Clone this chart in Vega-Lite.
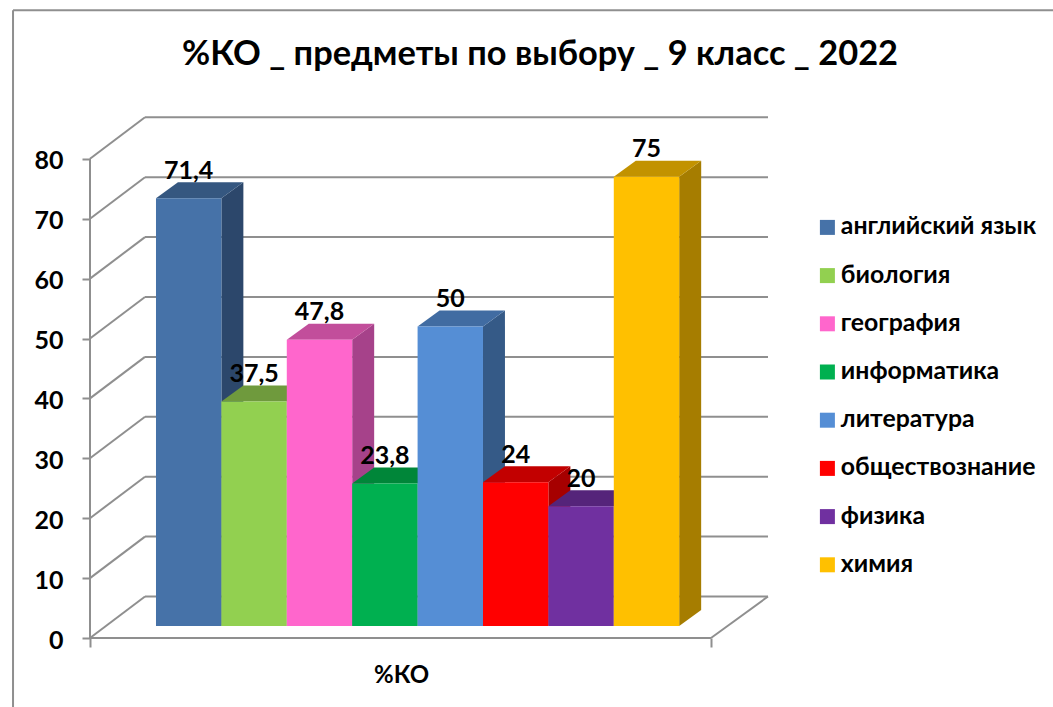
{
"$schema":"https://vega.github.io/schema/vega-lite/v6.json",
"width":678,"height":521,
"autosize":"none",
"padding":{"left":90,"top":117,"right":285,"bottom":69},
"background":"white",
"config":{"view":{"stroke":null},"font":"Lato"},
"title":{"text":"%КО _ предметы по выбору _ 9 класс _ 2022","font":"Lato","fontSize":34.4,"fontWeight":"bold","color":"#000000","anchor":"middle","frame":"group","dx":111,"offset":0,"dy":90,"baseline":"alphabetic"},
"datasets":{
"bars":[
{"subject":"английский язык","value":71.4,"order":0},
{"subject":"биология","value":37.5,"order":1},
{"subject":"география","value":47.8,"order":2},
{"subject":"информатика","value":23.8,"order":3},
{"subject":"литература","value":50,"order":4},
{"subject":"обществознание","value":24,"order":5},
{"subject":"физика","value":20,"order":6},
{"subject":"химия","value":75,"order":7}
],
"levels":[{"level":0},{"level":10},{"level":20},{"level":30},{"level":40},{"level":50},{"level":60},{"level":70},{"level":80}]
},
"layer":[
{"data":{"name":"levels"},"transform":[{"calculate":"datum.level+6.93","as":"back"}],
 "mark":{"type":"rule","color":"#8f8f8f","strokeWidth":2},
 "encoding":{
  "x":{"datum":-1.009,"type":"quantitative","scale":{"domain":[-1.009,9.358],"nice":false,"zero":false},
   "axis":{"values":[-1.009,8.486],"labels":false,"domain":false,"grid":false,"ticks":true,"tickSize":9,"tickWidth":2,"tickColor":"#8f8f8f","title":"%КО","titleFont":"Lato","titleFontSize":24,"titleFontWeight":"bold","titleColor":"#000000","titleX":311,"titleY":37,"titleBaseline":"middle","titleAlign":"center"}},
  "x2":{"datum":-0.168},
  "y":{"field":"level","type":"quantitative","scale":{"domain":[0,86.98],"nice":false,"zero":false},
   "axis":{"values":[0,10,20,30,40,50,60,70,80],"domain":false,"grid":false,"title":null,"tickSize":8,"tickWidth":2,"tickColor":"#8f8f8f","labelFont":"Lato","labelFontSize":25,"labelFontWeight":"bold","labelColor":"#000000","labelPadding":19,"labelOffset":2}},
  "y2":{"field":"back"}
 }},
{"data":{"name":"levels"},"transform":[{"calculate":"datum.level+6.93","as":"back"}],
 "mark":{"type":"rule","color":"#8f8f8f","strokeWidth":2},
 "encoding":{"x":{"datum":-0.168,"type":"quantitative"},"x2":{"datum":9.358},"y":{"field":"back","type":"quantitative"}}},
{"data":{"values":[{"level":0,"back":6.93}]},
 "mark":{"type":"rule","color":"#8f8f8f","strokeWidth":2},
 "encoding":{"x":{"datum":-1.009,"type":"quantitative"},"x2":{"datum":8.486},"y":{"field":"level","type":"quantitative"}}},
{"data":{"values":[{"level":0,"back":6.93}]},
 "mark":{"type":"rule","color":"#8f8f8f","strokeWidth":2},
 "encoding":{"x":{"datum":8.486,"type":"quantitative"},"x2":{"datum":9.358},"y":{"field":"level","type":"quantitative"},"y2":{"field":"back"}}},
{"data":{"values":[{"level":0,"top":80}]},
 "mark":{"type":"rule","color":"#8f8f8f","strokeWidth":2},
 "encoding":{"x":{"datum":-1.009,"type":"quantitative"},"y":{"field":"level","type":"quantitative"},"y2":{"field":"top"}}},
{"data":{"values":[{"a":-11.5,"b":104.8}]},
 "mark":{"type":"rule","color":"#8f8f8f","strokeWidth":2},
 "encoding":{"x":{"datum":-2.186,"type":"quantitative"},"y":{"field":"a","type":"quantitative"},"y2":{"field":"b"}}},
{"data":{"values":[{"b":104.8}]},
 "mark":{"type":"rule","color":"#8f8f8f","strokeWidth":2},
 "encoding":{"x":{"datum":-2.186,"type":"quantitative"},"x2":{"datum":13.716},"y":{"field":"b","type":"quantitative"}}},
{"data":{"name":"bars"},
 "transform":[{"calculate":"datum.order+1","as":"xa"},{"calculate":"datum.order+1.336","as":"xb"},{"fold":["xa","xb"],"as":["edge","xx"]},
  {"calculate":"datum.value+2+(datum.edge=='xb'?2.67:0)","as":"yt"},{"calculate":"2+(datum.edge=='xb'?2.67:0)","as":"yb"}],
 "mark":{"type":"area","opacity":1},
 "encoding":{"x":{"field":"xx","type":"quantitative"},"y":{"field":"yt","type":"quantitative"},"y2":{"field":"yb"},
  "color":{"field":"subject","type":"nominal","legend":null,"scale":{"domain":["английский язык","биология","география","информатика","литература","обществознание","физика","химия"],"range":["#2c476b","#5f8734","#a6428a","#007234","#355a87","#a60000","#491f68","#a67d00"]}}}},
{"data":{"name":"bars"},
 "transform":[{"calculate":"datum.value+2","as":"yf"},{"calculate":"datum.value+4.67","as":"yr"},{"fold":["yf","yr"],"as":["face","yy"]},
  {"calculate":"datum.order+(datum.face=='yr'?0.336:0)","as":"xl"},{"calculate":"datum.order+1+(datum.face=='yr'?0.336:0)","as":"xr"}],
 "mark":{"type":"area","orient":"horizontal","opacity":1},
 "encoding":{"y":{"field":"yy","type":"quantitative"},"x":{"field":"xl","type":"quantitative"},"x2":{"field":"xr"},
  "color":{"field":"subject","type":"nominal","legend":null,"scale":{"domain":["английский язык","биология","география","информатика","литература","обществознание","физика","химия"],"range":["#355780","#6f9a3d","#c24e9b","#008639","#416ca2","#c20000","#55247a","#c29200"]}}}},
{"data":{"name":"bars"},
 "transform":[{"calculate":"datum.order+1","as":"xe"},{"calculate":"datum.value+2","as":"yt"},{"calculate":"2","as":"yb"}],
 "mark":{"type":"rect"},
 "encoding":{"x":{"field":"order","type":"quantitative"},"x2":{"field":"xe"},"y":{"field":"yt","type":"quantitative"},"y2":{"field":"yb"},
  "color":{"field":"subject","type":"nominal","sort":null,
   "scale":{"domain":["английский язык","биология","география","информатика","литература","обществознание","физика","химия"],"range":["#4672a8","#92d050","#ff66cc","#00b050","#558ed5","#ff0000","#7030a0","#ffc000"]},
   "legend":{"orient":"none","legendX":725,"legendY":98,"title":null,"symbolType":"square","symbolSize":225,"symbolStrokeWidth":0,"labelFont":"Lato","labelFontSize":24.8,"labelFontWeight":"bold","labelColor":"#000000","labelOffset":1,"rowPadding":22.2,"labelLimit":260}}}},
{"data":{"name":"bars"},
 "transform":[{"calculate":"datum.order+0.5","as":"xc"},{"calculate":"datum.value+4.67","as":"yl"},{"calculate":"replace(''+datum.value,'.',',')","as":"label"}],
 "mark":{"type":"text","font":"Lato","fontSize":25,"fontWeight":"bold","color":"#000000","dy":-11.5,"baseline":"middle"},
 "encoding":{"x":{"field":"xc","type":"quantitative"},"y":{"field":"yl","type":"quantitative"},"text":{"field":"label"}}}
],
"resolve":{"scale":{"color":"independent"}}
}
